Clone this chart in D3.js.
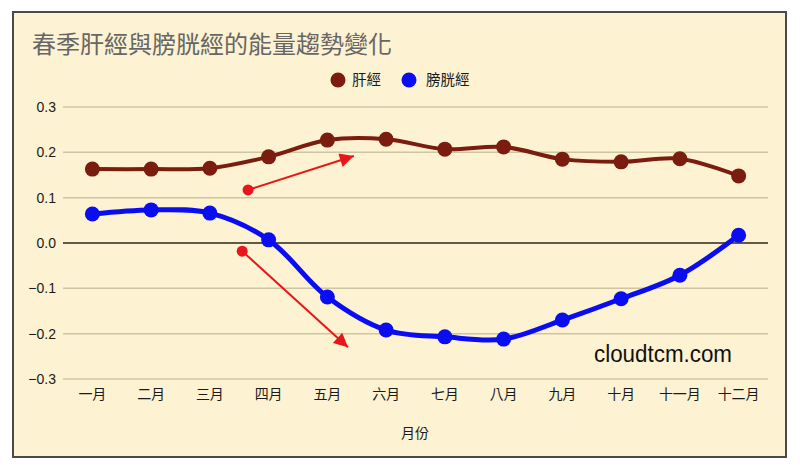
<!DOCTYPE html>
<html><head><meta charset="utf-8">
<script src="https://cdn.jsdelivr.net/npm/d3@7/dist/d3.min.js"></script>
<style>body{margin:0;background:#fff}svg{display:block}</style>
</head><body>
<svg id="c" width="800" height="473"></svg>
<script>
const months = ["一月","二月","三月","四月","五月","六月","七月","八月","九月","十月","十一月","十二月"];
const liver = [0.163,0.163,0.165,0.190,0.227,0.229,0.207,0.212,0.185,0.179,0.186,0.148];
const bladder = [0.064,0.073,0.066,0.007,-0.119,-0.192,-0.207,-0.212,-0.170,-0.123,-0.071,0.017];
const yTicks = [0.3,0.2,0.1,0.0,-0.1,-0.2,-0.3];
const seriesNames = ["肝經","膀胱經"];
const seriesColors = ["#7a1c0e","#0a0df0"];
// annotation arrows: [startMonthIndex(fractional), startValue, endMonthIndex, endValue]
const arrows = [[2.65,0.117,4.45,0.192],[2.55,-0.018,4.35,-0.230]];

const font = "'Liberation Sans','Noto Sans CJK TC',Arial,sans-serif";
const svg = d3.select("#c");
const L = 63, R = 768, T = 107, B = 379;
svg.append("rect").attr("x",13).attr("y",12).attr("width",773).attr("height",445)
  .attr("fill","#fdf2d1").attr("stroke","#4a4a4a").attr("stroke-width",2);

const x = d3.scalePoint().domain(months).range([L,R]).padding(0.5);
const xi = d3.scaleLinear().domain([0,11]).range([x(months[0]),x(months[11])]);
const y = d3.scaleLinear().domain([-0.3,0.3]).range([B,T]);

const g = svg.append("g");
g.selectAll("line.grid").data(yTicks).join("line")
  .attr("x1",L).attr("x2",R).attr("y1",d=>y(d)).attr("y2",d=>y(d))
  .attr("stroke",d=>d===0?"#5f5a48":"#cfc5a3").attr("stroke-width",d=>d===0?2:1.5);

g.selectAll("text.yt").data(yTicks).join("text")
  .attr("x",56).attr("y",d=>y(d)+5).attr("text-anchor","end")
  .attr("font-family",font).attr("font-size",14).attr("fill","#1a1a1a")
  .text(d=>d3.format(".1f")(d));

g.selectAll("text.xt").data(months).join("text")
  .attr("x",d=>x(d)).attr("y",399).attr("text-anchor","middle")
  .attr("font-family",font).attr("font-size",14).attr("fill","#1a1a1a").text(d=>d);

svg.append("text").attr("x",415).attr("y",438).attr("text-anchor","middle")
  .attr("font-family",font).attr("font-size",14).attr("fill","#1a1a1a").text("月份");

svg.append("text").attr("x",32).attr("y",53)
  .attr("font-family",font).attr("font-size",24).attr("fill","#666")
  .text("春季肝經與膀胱經的能量趨勢變化");

svg.append("text").attr("x",594).attr("y",362).attr("textLength",138).attr("lengthAdjust","spacingAndGlyphs")
  .attr("font-family",font).attr("font-size",23).attr("fill","#111").text("cloudtcm.com");

// legend
const leg = [[338,352],[409,426]];
seriesNames.forEach((n,i)=>{
  svg.append("circle").attr("cx",leg[i][0]).attr("cy",80).attr("r",7.5).attr("fill",seriesColors[i]);
  svg.append("text").attr("x",leg[i][1]).attr("y",85).attr("font-family",font)
    .attr("font-size",14.5).attr("fill","#1a1a1a").text(n);
});

// arrows
const defs = svg.append("defs");
defs.append("marker").attr("id","ah").attr("viewBox","0 0 10 10").attr("refX",10).attr("refY",5)
  .attr("markerWidth",18).attr("markerHeight",14).attr("markerUnits","userSpaceOnUse")
  .attr("orient","auto").append("path").attr("d","M0,0L10,5L0,10Z").attr("fill","#e8161a");
arrows.forEach(a=>{
  svg.append("line").attr("x1",xi(a[0])).attr("y1",y(a[1])).attr("x2",xi(a[2])).attr("y2",y(a[3]))
    .attr("stroke","#e8161a").attr("stroke-width",2).attr("marker-end","url(#ah)");
  svg.append("circle").attr("cx",xi(a[0])).attr("cy",y(a[1])).attr("r",5.5).attr("fill","#e8161a");
});

const line = d3.line().x((d,i)=>x(months[i])).y(d=>y(d)).curve(d3.curveCatmullRom.alpha(0.5));
[liver,bladder].forEach((s,i)=>{
  svg.append("path").attr("d",line(s)).attr("fill","none").attr("stroke",seriesColors[i])
    .attr("stroke-width",i===0?4:5).attr("stroke-linejoin","round");
  svg.append("g").selectAll("circle").data(s).join("circle")
    .attr("cx",(d,j)=>x(months[j])).attr("cy",d=>y(d)).attr("r",7.5).attr("fill",seriesColors[i]);
});
</script>
</body></html>
